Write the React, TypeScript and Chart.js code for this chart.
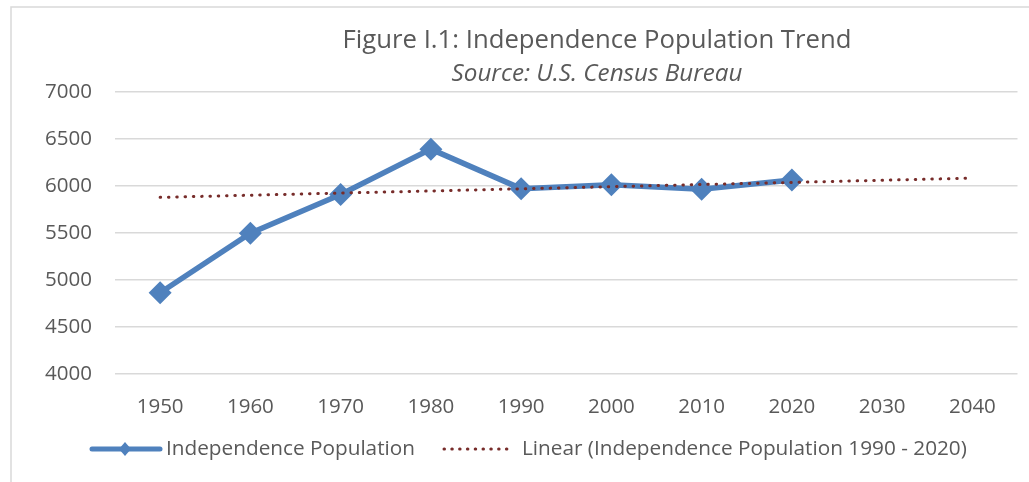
import React, { useEffect, useRef } from "react";
import { Chart, registerables } from "chart.js";

Chart.register(...registerables);

const years = ["1950", "1960", "1970", "1980", "1990", "2000", "2010", "2020", "2030", "2040"];
const population = [4865, 5498, 5910, 6392, 5972, 6014, 5966, 6064, null, null];
const trend = [5879, 5902, 5925, 5947, 5970, 5993, 6016, 6038, 6061, 6084];
const yMin = 4000;
const yMax = 7000;
const yStep = 500;
const titleText = "Figure I.1: Independence Population Trend";
const subtitleText = "Source: U.S. Census Bureau";
const seriesLabel = "Independence Population";
const trendLabel = "Linear (Independence Population 1990 - 2020)";

const FONT = "'Open Sans', 'Noto Sans', sans-serif";
const TEXT = "#595959";
const BLUE = "#4F81BD";
const RED = "#772C2A";
const GRID = "#D9D9D9";

function fitSize(text: string, target: number, style = ""): number {
  const c = document.createElement("canvas").getContext("2d");
  if (!c) return 20;
  c.font = `${style} 100px ${FONT}`;
  const w = c.measureText(text).width;
  return (100 * target) / w;
}

export default function App() {
  const ref = useRef<HTMLCanvasElement | null>(null);
  useEffect(() => {
    if (!ref.current) return;
    const titleSize = fitSize(titleText, 509);
    const subSize = fitSize(subtitleText, 291, "italic");
    const legendSize = fitSize(seriesLabel, 249);
    const tickSize = fitSize("7000", 47);

    const decor = {
      id: "decor",
      beforeDraw(chart: any) {
        const ctx = chart.ctx;
        ctx.save();
        ctx.fillStyle = "#ffffff";
        ctx.fillRect(0, 0, chart.width, chart.height);
        ctx.strokeStyle = GRID;
        ctx.lineWidth = 1.5;
        ctx.beginPath();
        ctx.moveTo(11, chart.height + 2);
        ctx.lineTo(11, 7);
        ctx.lineTo(chart.width + 2, 7);
        ctx.stroke();
        ctx.restore();
      },
      afterDraw(chart: any) {
        const ctx = chart.ctx;
        ctx.save();
        ctx.fillStyle = TEXT;
        ctx.textAlign = "center";
        ctx.textBaseline = "middle";
        ctx.font = `${titleSize}px ${FONT}`;
        ctx.fillText(titleText, 597, 41);
        ctx.font = `italic ${subSize}px ${FONT}`;
        ctx.fillText(subtitleText, 597, 74);

        const ly = 449;
        ctx.strokeStyle = BLUE;
        ctx.lineWidth = 5;
        ctx.lineCap = "round";
        ctx.beginPath();
        ctx.moveTo(92, ly);
        ctx.lineTo(160, ly);
        ctx.stroke();
        ctx.fillStyle = BLUE;
        ctx.beginPath();
        ctx.moveTo(125, ly - 7);
        ctx.lineTo(131, ly);
        ctx.lineTo(125, ly + 7);
        ctx.lineTo(119, ly);
        ctx.closePath();
        ctx.fill();

        ctx.strokeStyle = RED;
        ctx.lineWidth = 3;
        ctx.setLineDash([0.5, 7.3]);
        ctx.beginPath();
        ctx.moveTo(444, ly);
        ctx.lineTo(514, ly);
        ctx.stroke();
        ctx.setLineDash([]);

        ctx.fillStyle = TEXT;
        ctx.textAlign = "left";
        ctx.font = `${legendSize}px ${FONT}`;
        ctx.fillText(seriesLabel, 166, ly);
        ctx.fillText(trendLabel, 522, ly);
        ctx.restore();
      },
    };

    const chart = new Chart(ref.current, {
      type: "line",
      data: {
        labels: years,
        datasets: [
          {
            label: trendLabel,
            data: trend,
            borderColor: RED,
            borderWidth: 3,
            borderDash: [0.5, 7.8],
            borderCapStyle: "round",
            pointRadius: 0,
            fill: false,
            order: 0,
          },
          {
            label: seriesLabel,
            data: population,
            borderColor: BLUE,
            backgroundColor: BLUE,
            borderWidth: 5.5,
            pointStyle: "rectRot",
            pointRadius: 11.5,
            pointBorderWidth: 0,
            pointBackgroundColor: BLUE,
            fill: false,
            order: 1,
          },
        ],
      },
      options: {
        animation: false,
        responsive: false,
        maintainAspectRatio: false,
        layout: { padding: { top: 92, right: 6, left: 0, bottom: 0 } },
        plugins: {
          legend: { display: false },
          title: { display: false },
          tooltip: { enabled: false },
        },
        scales: {
          x: {
            offset: true,
            grid: { display: false, drawTicks: false },
            border: { display: false },
            ticks: { color: TEXT, font: { family: FONT, size: tickSize }, padding: 21 },
            afterFit(scale: any) {
              scale.height = 108;
            },
          },
          y: {
            min: yMin,
            max: yMax,
            grid: { color: GRID, lineWidth: 1.5, drawTicks: false },
            border: { display: false },
            ticks: {
              stepSize: yStep,
              color: TEXT,
              font: { family: FONT, size: tickSize },
              padding: 23,
              callback: (v: any) => String(v),
            },
            afterFit(scale: any) {
              scale.width = 115;
            },
          },
        },
      },
      plugins: [decor],
    });
    return () => chart.destroy();
  }, []);
  return (
    <div style={{ position: "fixed", left: 0, top: 0, width: 1029, height: 482 }}>
      <canvas ref={ref} width={1029} height={482} style={{ width: 1029, height: 482 }} />
    </div>
  );
}
